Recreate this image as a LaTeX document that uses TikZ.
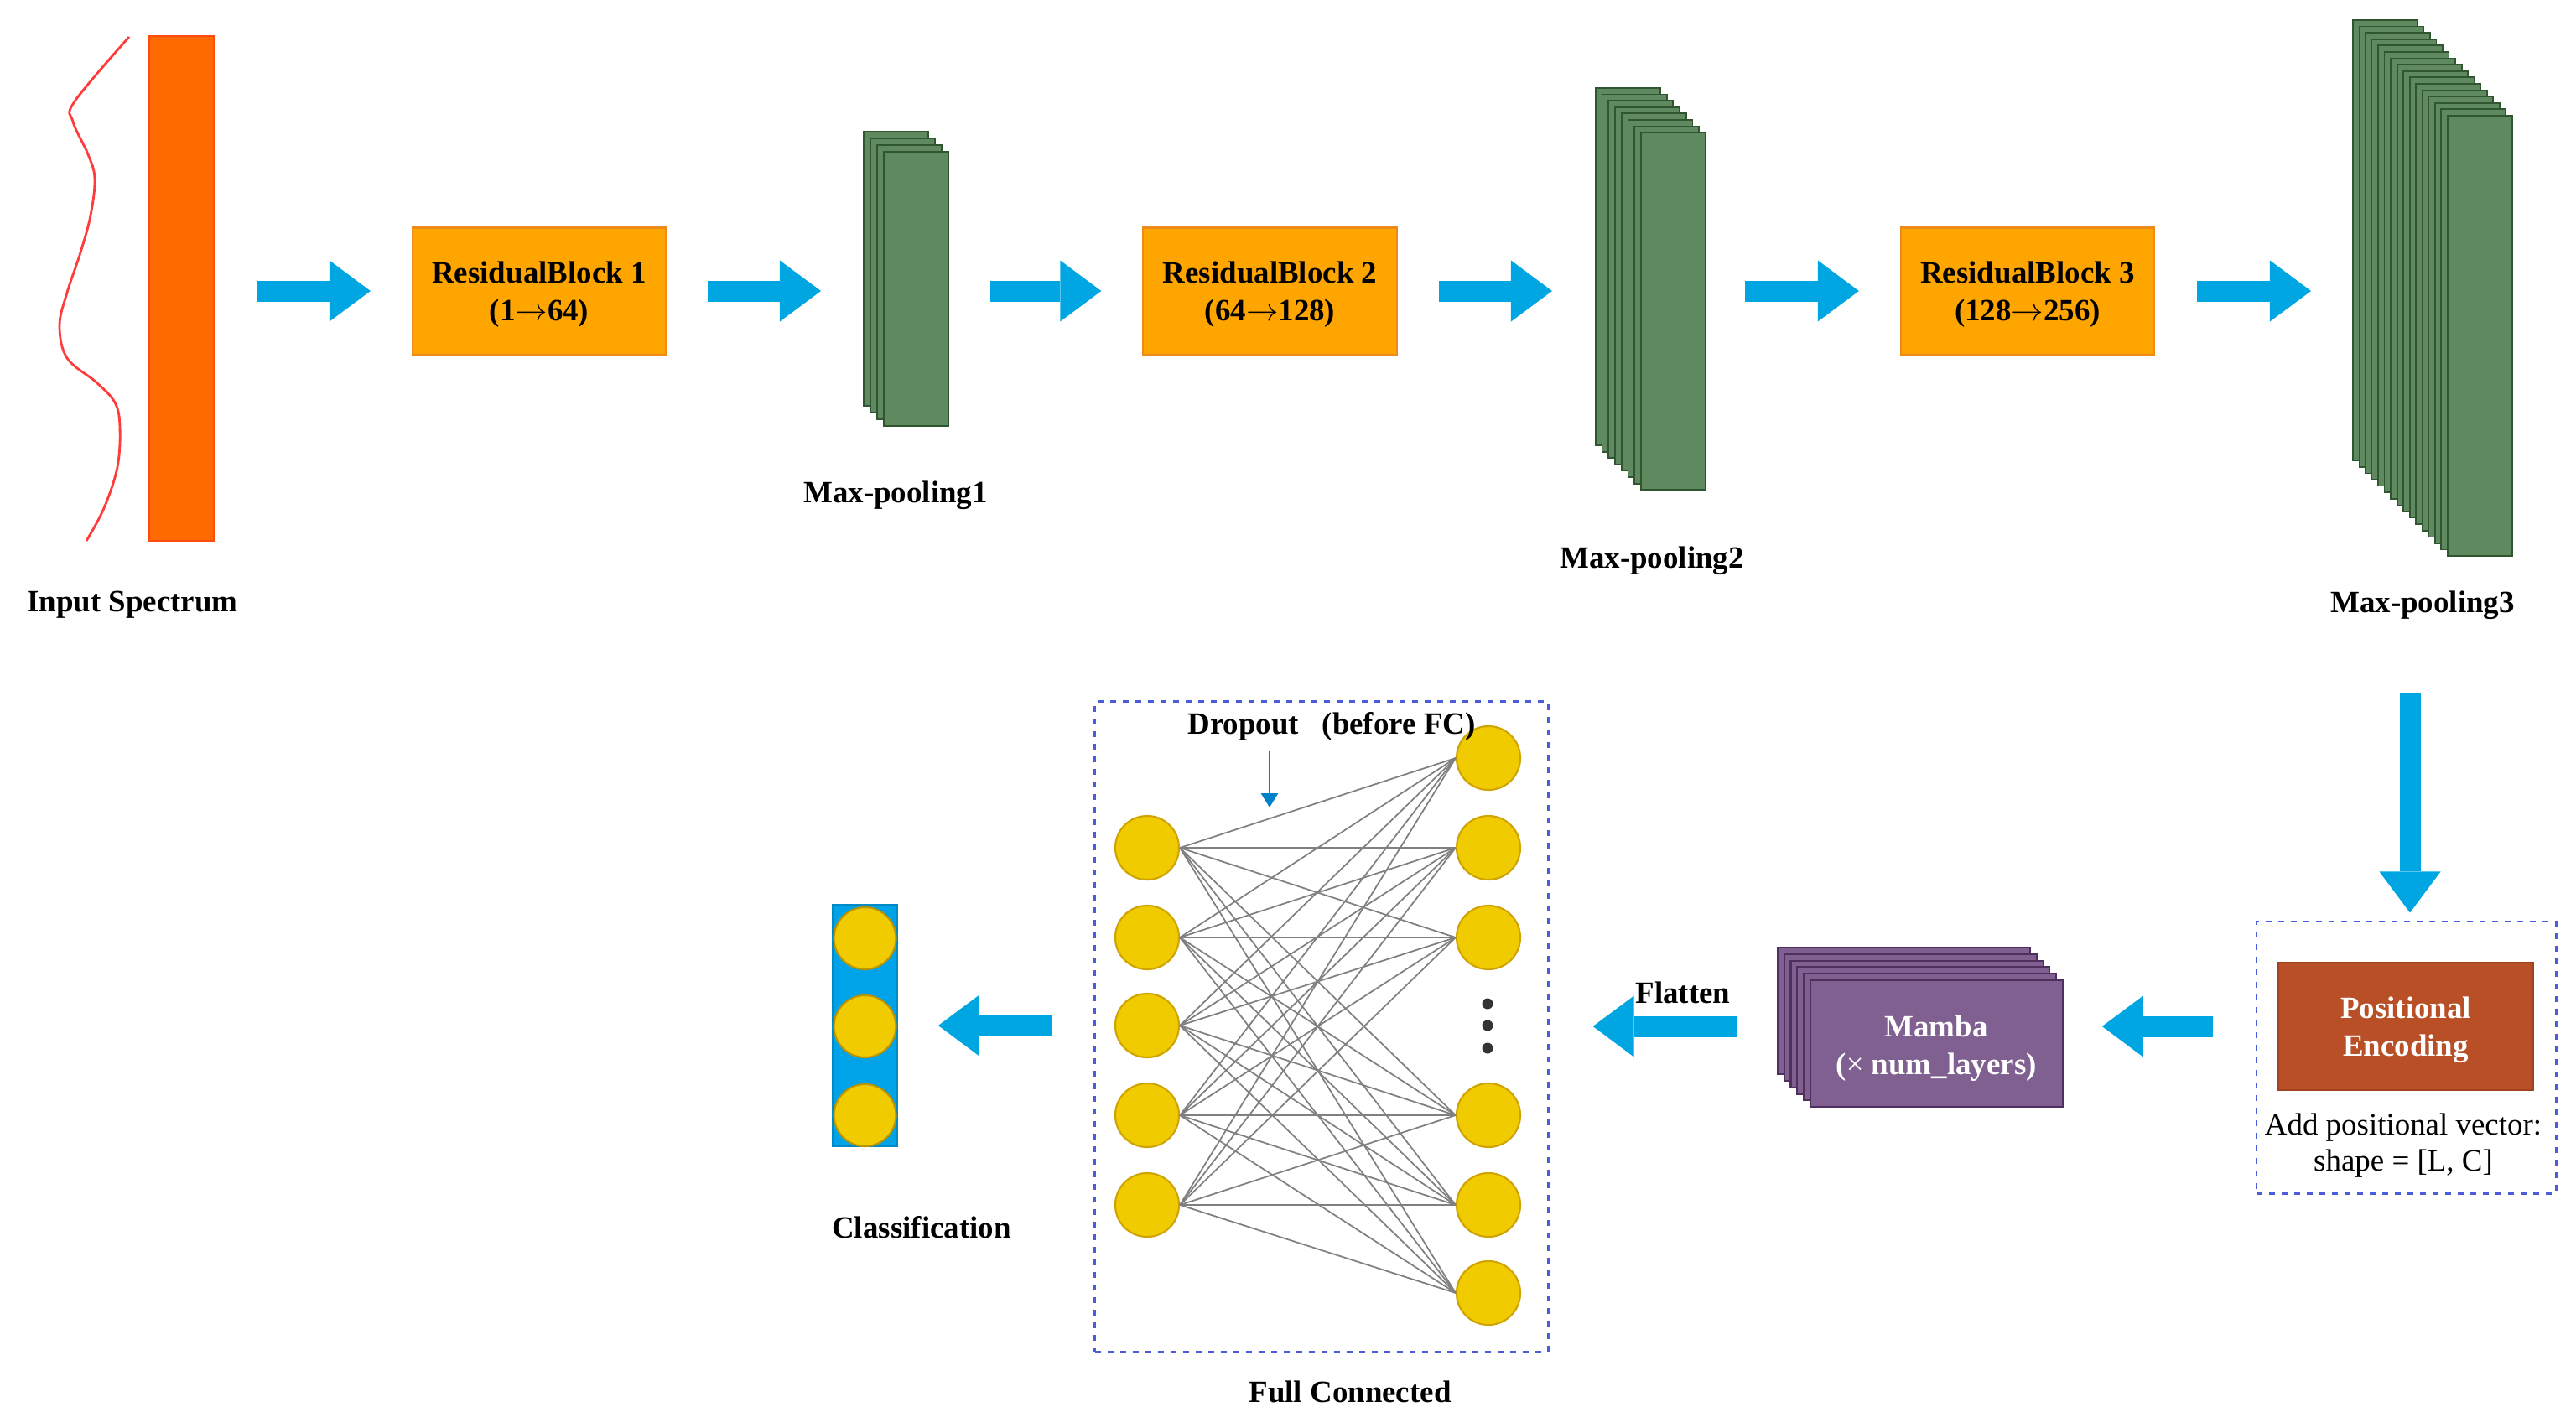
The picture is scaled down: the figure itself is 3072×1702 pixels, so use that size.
\documentclass[tikz,border=0pt]{standalone}
\usepackage{fontspec}
\setmainfont{Liberation Serif}
\usetikzlibrary{arrows.meta,calc}
\definecolor{barorange}{HTML}{FF6A00}
\definecolor{bardraw}{HTML}{FF4A10}
\definecolor{rbfill}{HTML}{FFA500}
\definecolor{rbdraw}{HTML}{EE8A1A}
\definecolor{mpgreen}{HTML}{5F8A60}
\definecolor{mpdraw}{HTML}{2F5531}
\definecolor{arrowblue}{HTML}{00A6E2}
\definecolor{pefill}{HTML}{B84F27}
\definecolor{pedraw}{HTML}{A0421F}
\definecolor{mambafill}{HTML}{806090}
\definecolor{mambadraw}{HTML}{4E2F5E}
\definecolor{nodeyellow}{HTML}{F0CB00}
\definecolor{nodedraw}{HTML}{CFA300}
\definecolor{dashblue}{HTML}{4A5BDB}
\definecolor{clsblue}{HTML}{00A2E8}
\definecolor{dropblue}{HTML}{0082C8}
\definecolor{spec}{HTML}{FF3C3C}
\newcommand{\rarr}{\ensuremath{\rightarrow}}
\begin{document}
\begin{tikzpicture}[x=0.01cm,y=-0.01cm,
  font=\fontsize{10.5pt}{12.8pt}\selectfont\bfseries,
  lbl/.style={inner sep=0pt,align=center},
  rbbox/.style={draw=rbdraw,fill=rbfill,line width=0.6pt,minimum width=3.02cm,minimum height=1.51cm,inner sep=0pt,align=center,text depth=0pt},
  mplayer/.style={draw=mpdraw,fill=mpgreen,line width=0.5pt,inner sep=0pt,anchor=north west,minimum width=0.77cm},
  mlayer/.style={draw=mambadraw,fill=mambafill,line width=0.6pt,inner sep=0pt,anchor=north west,minimum width=3.01cm,minimum height=1.51cm},
  barrow/.style={draw=arrowblue,line width=0.25cm,-{Triangle[width=0.73cm,length=0.49cm,line width=0pt]},shorten <=0.49cm,shorten >=0.49cm},
  dbox/.style={draw=dashblue,line width=0.8pt,dash pattern=on 0.07cm off 0.08cm,inner sep=0pt},
  neuron/.style={circle,draw=nodedraw,fill=nodeyellow,line width=0.6pt,minimum size=0.76cm,inner sep=0pt},
  conn/.style={draw=black!50,line width=0.5pt},
  dotnode/.style={circle,fill=black!80,minimum size=0.13cm,inner sep=0pt},
  droparrow/.style={draw=dropblue,line width=0.8pt,-{Triangle[width=0.2cm,length=0.17cm]}},
  spectrum/.style={draw=spec,line width=0.8pt}]
\fill[white] (0,0) rectangle (3072,1702);
\useasboundingbox (0,0) rectangle (3072,1702);

% ---------- top row ----------
\draw[spectrum] plot[smooth,tension=0.6] coordinates {(154,44) (89,121) (87,145) (105,184) (113,213) (108,257) (96,301) (80,349) (71,388) (80,427) (115,456) (137,480) (143,509) (140,557) (124,606) (103,645)};
\node[draw=bardraw,fill=barorange,line width=0.5pt,minimum width=0.77cm,minimum height=6.02cm,inner sep=0pt] (bar) at (216.5,344) {};
\node[lbl] (inlab) at (158,721) {Input Spectrum};

\node[rbbox] (rb1) at (643,347) {ResidualBlock 1\\(1\rarr64)};
\node[rbbox] (rb2) at (1514.5,347) {ResidualBlock 2\\(64\rarr128)};
\node[rbbox] (rb3) at (2418,347) {ResidualBlock 3\\(128\rarr256)};

\foreach \i in {1,...,4}
  \node[mplayer,minimum height=3.27cm] (mp1-\i) at ({1029+(\i-1)*8},{156+(\i-1)*8}) {};
\foreach \i in {1,...,8}
  \node[mplayer,minimum height=4.26cm] (mp2-\i) at ({1902+(\i-1)*7.7},{104+(\i-1)*7.6}) {};
\foreach \i in {1,...,16}
  \node[mplayer,minimum height=5.25cm] (mp3-\i) at ({2805+(\i-1)*7.53},{23+(\i-1)*7.6}) {};

\node[lbl] (mp1lab) at (1068,591) {Max-pooling1};
\node[lbl] (mp2lab) at (1970,669) {Max-pooling2};
\node[lbl] (mp3lab) at (2889,722) {Max-pooling3};

\draw[barrow,shorten <=0.51cm] (bar.east |- rb1.west) -- (rb1.west);
\draw[barrow,shorten >=0.5cm] (rb1.east) -- (rb1.east -| mp1-1.west);
\draw[barrow] (mp1-4.east |- rb2.west) -- (rb2.west);
\draw[barrow,shorten >=0.51cm] (rb2.east) -- (rb2.east -| mp2-1.west);
\draw[barrow,shorten <=0.46cm] (mp2-8.east |- rb3.west) -- (rb3.west);
\draw[barrow,shorten <=0.5cm] (rb3.east) -- (rb3.east -| mp3-1.west);

% ---------- positional encoding ----------
\node[dbox,minimum width=3.57cm,minimum height=3.24cm] (pebox) at (2869.5,1261) {};
\node[draw=pedraw,fill=pefill,line width=0.6pt,minimum width=3.04cm,minimum height=1.52cm,inner sep=0pt,align=center,text=white,text depth=0pt] (pe) at (2869,1224) {Positional\\Encoding};
\node[lbl,font=\fontsize{10.5pt}{12.3pt}\selectfont] (pelab) at (2866,1366) {Add positional vector:\\shape = [L, C]};
\coordinate (dstart) at (2874,827);
\draw[barrow,shorten <=0pt,shorten >=0.09cm] (dstart) -- (dstart |- pebox.north);

% ---------- mamba ----------
\foreach \i in {1,...,6}
  \node[mlayer] (mamba-\i) at ({2119+(\i-1)*7.7},{1129+(\i-1)*7.8}) {};
\node[lbl,text=white] (mambalab) at ([yshift=-0.06cm]mamba-6.center) {Mamba\\({\mdseries ×} num\_layers)};
\draw[barrow,shorten <=0.5cm,shorten >=0.46cm] (pebox.west |- pe.center) -- (mamba-6.east |- pe.center);

% ---------- fully connected ----------
\node[dbox,minimum width=5.4cm,minimum height=7.75cm] (fcbox) at (1576,1224.5) {};
\foreach \y [count=\i] in {1011,1118,1223,1330,1437}
  \node[neuron] (L\i) at (1368,\y) {};
\foreach \y [count=\j] in {904,1011,1118,1330,1437,1542}
  \node[neuron] (R\j) at (1775,\y) {};
\foreach \i in {1,...,5}
  \foreach \j in {1,...,6}
    \draw[conn] (L\i.east) -- (R\j.west);
\foreach \y [count=\k] in {1197,1223,1250}
  \node[dotnode] (dot\k) at (1774,\y) {};
\node[lbl] (droplab) at (1588,866) {Dropout\ \ \ (before FC)};
\coordinate (dropstart) at (1514,896);
\coordinate (dropend) at (1514,963);
\draw[droparrow] (dropstart) -- (dropend);
\node[lbl] (fclab) at (1610,1660) {Full Connected};
\node[lbl] (flatlab) at (2007,1184) {Flatten};
\draw[barrow,shorten <=0.48cm,shorten >=0.52cm] (mamba-1.west |- pe.center) -- (fcbox.east |- pe.center);

% ---------- classification ----------
\node[draw=clsblue!85!black,fill=clsblue,line width=0.5pt,minimum width=0.77cm,minimum height=2.88cm,inner sep=0pt] (cls) at (1031.5,1223) {};
\foreach \y [count=\k] in {1119,1224,1330}
  \node[neuron,draw=nodedraw!90!black,minimum size=0.74cm] (C\k) at (1031.5,\y) {};
\node[lbl] (clslab) at (1099,1464) {Classification};
\draw[barrow,shorten <=0.5cm,shorten >=0.48cm] (fcbox.west |- L3.center) -- (cls.east |- L3.center);
\end{tikzpicture}
\end{document}
